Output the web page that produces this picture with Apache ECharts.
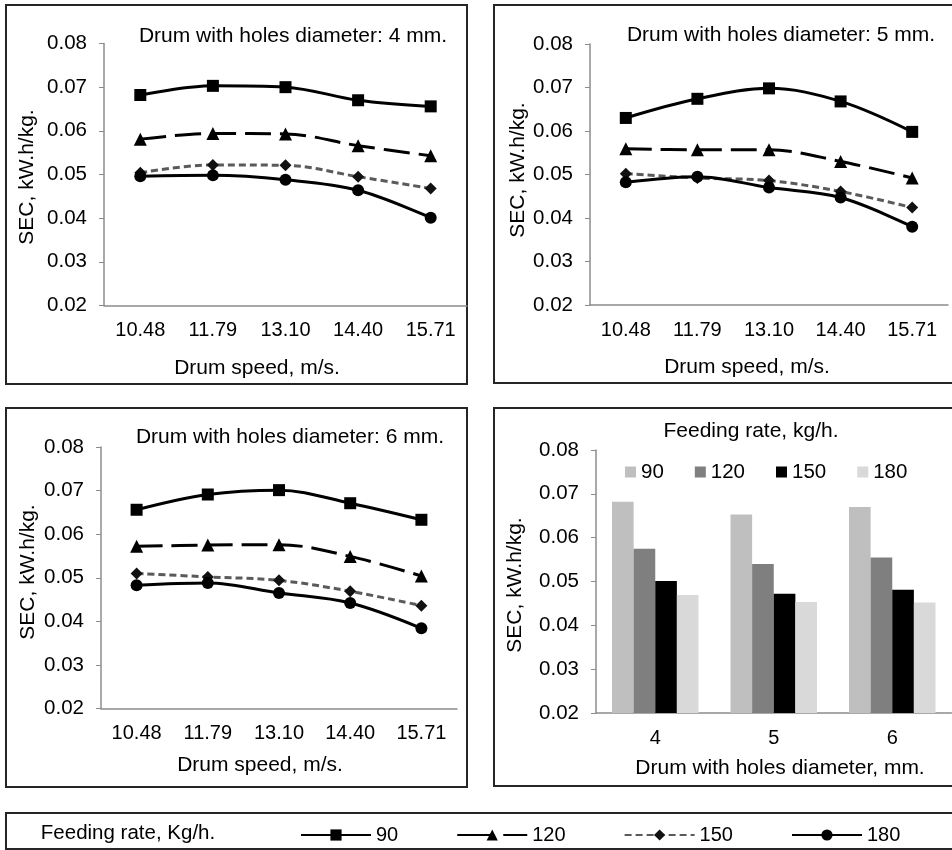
<!DOCTYPE html>
<html>
<head>
<meta charset="utf-8">
<script src="https://cdn.jsdelivr.net/npm/echarts@6/dist/echarts.min.js"></script>
<style>
  html, body { margin: 0; padding: 0; background: #fff; }
  #chart { width: 952px; height: 850px; }
</style>
</head>
<body>
<div id="chart"></div>
<script>
// drum speed categories (m/s)
var speeds = ['10.48', '11.79', '13.10', '14.40', '15.71'];
var feedNames = ['90', '120', '150', '180'];
var yTicks = { min: 0.02, max: 0.08, step: 0.01 };

// SEC values, drum with 4 mm holes
var d4_90 = [0.0682, 0.0703, 0.0700, 0.0670, 0.0656];
var d4_120 = [0.0581, 0.0594, 0.0593, 0.0566, 0.0543];
var d4_150 = [0.0504, 0.0522, 0.0521, 0.0495, 0.0468];
var d4_180 = [0.0496, 0.0498, 0.0488, 0.0464, 0.0401];

// 5 mm holes
var d5_90 = [0.0630, 0.0674, 0.0698, 0.0668, 0.0598];
var d5_120 = [0.0559, 0.0557, 0.0557, 0.0530, 0.0492];
var d5_150 = [0.0502, 0.0492, 0.0486, 0.0461, 0.0424];
var d5_180 = [0.0482, 0.0495, 0.0470, 0.0447, 0.0380];

// 6 mm holes
var d6_90 = [0.0656, 0.0691, 0.0701, 0.0671, 0.0633];
var d6_120 = [0.0572, 0.0575, 0.0576, 0.0549, 0.0504];
var d6_150 = [0.0510, 0.0502, 0.0494, 0.0469, 0.0436];
var d6_180 = [0.0483, 0.0488, 0.0465, 0.0442, 0.0384];

// averages per hole diameter (bar panel)
var holes = ['4', '5', '6'];
var bar90 = [0.0682, 0.0653, 0.0670];
var bar120 = [0.0575, 0.0540, 0.0555];
var bar150 = [0.0501, 0.0472, 0.0481];
var bar180 = [0.0469, 0.0453, 0.0452];

var FONT = '"Liberation Sans", Arial, sans-serif';
var axisGray = '#8c8c8c';

var chart = echarts.init(document.getElementById('chart'));

var grids = [
    { left: 104, top: 43.5, width: 363, height: 262 },
    { left: 590, top: 44, width: 358, height: 261 },
    { left: 101, top: 447, width: 356, height: 261.5 },
    { left: 596, top: 450, width: 355.5, height: 263 }
];

function xAxis(idx, data) {
    return {
        type: 'category', gridIndex: idx, data: data, boundaryGap: true,
        axisLine: { lineStyle: { color: axisGray, width: 1.5 } },
        axisTick: { alignWithLabel: true, length: 5, lineStyle: { color: axisGray } },
        axisLabel: { color: '#000', fontSize: 20, fontFamily: FONT, margin: 15 }
    };
}

function yAxis(idx) {
    return {
        type: 'value', gridIndex: idx,
        min: yTicks.min, max: yTicks.max, interval: yTicks.step,
        axisLine: { show: true, lineStyle: { color: axisGray, width: 1.5 } },
        axisTick: { show: true, length: 5, lineStyle: { color: axisGray } },
        splitLine: { show: false },
        axisLabel: {
            color: '#000', fontSize: 20.5, fontFamily: FONT, margin: 17,
            formatter: function (v) { return v.toFixed(2); }
        }
    };
}

// line style for each feeding rate
var lineLook = {
    '90': { symbol: 'rect', size: 12, line: { color: '#000', width: 3, type: 'solid' }, fill: '#000' },
    '120': { symbol: 'triangle', size: 13, line: { color: '#000', width: 3, type: [26, 9] }, fill: '#000' },
    '150': { symbol: 'diamond', size: 12, line: { color: '#5a5a5a', width: 3, type: [7, 4] }, fill: '#111' },
    '180': { symbol: 'circle', size: 12, line: { color: '#000', width: 3, type: 'solid' }, fill: '#000' }
};

function lineSeries(idx, name, values) {
    var look = lineLook[name];
    return {
        type: 'line', name: name, xAxisIndex: idx, yAxisIndex: idx,
        data: values, smooth: 0.35,
        symbol: look.symbol, symbolSize: look.size,
        lineStyle: look.line,
        itemStyle: { color: look.fill, borderWidth: 0 },
        animation: false
    };
}

function barSeries(name, values, color) {
    return {
        type: 'bar', name: name, xAxisIndex: 3, yAxisIndex: 3,
        data: values, barGap: 0, barCategoryGap: '27%',
        itemStyle: { color: color },
        animation: false
    };
}

function txt(x, y, s, size, rot) {
    return {
        type: 'text', x: x, y: y, rotation: rot || 0, z: 10,
        style: { text: s, fill: '#000', font: size + 'px ' + FONT, align: 'center', verticalAlign: 'middle' }
    };
}

function box(x, y, w, h) {
    return {
        type: 'rect', shape: { x: x, y: y, width: w, height: h }, z: 0,
        style: { fill: 'none', stroke: '#262626', lineWidth: 2 }
    };
}

var options = {
    backgroundColor: '#fff',
    grid: grids,
    xAxis: [xAxis(0, speeds), xAxis(1, speeds), xAxis(2, speeds), xAxis(3, holes)],
    yAxis: [yAxis(0), yAxis(1), yAxis(2), yAxis(3)],
    legend: [{
        data: [
            { name: feedNames[0] },
            { name: feedNames[1], lineStyle: { type: [36, 10, 40] } },
            { name: feedNames[2] },
            { name: feedNames[3] }
        ],
        left: 300, top: 825, padding: 0,
        itemWidth: 70, itemHeight: 14, itemGap: 58,
        textStyle: { color: '#000', fontSize: 20, fontFamily: FONT }
    }, {
        data: ['b90', 'b120', 'b150', 'b180'],
        formatter: function (n) { return n.replace('b', ''); },
        icon: 'rect',
        left: 625, top: 461.5, padding: 0,
        itemWidth: 11, itemHeight: 11, itemGap: 31,
        textStyle: { color: '#000', fontSize: 20.5, fontFamily: FONT }
    }],
    series: [
        lineSeries(0, '90', d4_90), lineSeries(0, '120', d4_120),
        lineSeries(0, '150', d4_150), lineSeries(0, '180', d4_180),
        lineSeries(1, '90', d5_90), lineSeries(1, '120', d5_120),
        lineSeries(1, '150', d5_150), lineSeries(1, '180', d5_180),
        lineSeries(2, '90', d6_90), lineSeries(2, '120', d6_120),
        lineSeries(2, '150', d6_150), lineSeries(2, '180', d6_180),
        barSeries('b90', bar90, '#bfbfbf'),
        barSeries('b120', bar120, '#7f7f7f'),
        barSeries('b150', bar150, '#000000'),
        barSeries('b180', bar180, '#d9d9d9')
    ],
    graphic: [
        box(6, 5, 461, 379), box(494, 5, 470, 378),
        box(6, 408, 461, 379), box(494, 408, 470, 378),
        box(6, 813, 960, 36),
        // panel titles
        txt(293, 36, 'Drum with holes diameter: 4 mm.', 21),
        txt(781, 35, 'Drum with holes diameter: 5 mm.', 21),
        txt(290, 437, 'Drum with holes diameter: 6 mm.', 21),
        txt(751, 431, 'Feeding rate, kg/h.', 21),
        // x axis titles
        txt(257, 368, 'Drum speed, m/s.', 21),
        txt(747, 367, 'Drum speed, m/s.', 21),
        txt(260, 765, 'Drum speed, m/s.', 21),
        txt(780, 768, 'Drum with holes diameter, mm.', 21),
        // y axis titles
        txt(27, 177, 'SEC, kW.h/kg.', 21, Math.PI / 2),
        txt(518, 170, 'SEC, kW.h/kg.', 21, Math.PI / 2),
        txt(28, 572, 'SEC, kW.h/kg.', 21, Math.PI / 2),
        txt(515, 585, 'SEC, kW.h/kg.', 21, Math.PI / 2),
        // bottom legend caption
        txt(128, 833, 'Feeding rate, Kg/h.', 20.5)
    ]
};

chart.setOption(options);
window.addEventListener('resize', function () {
    chart.resize();
});
</script>
</body>
</html>
